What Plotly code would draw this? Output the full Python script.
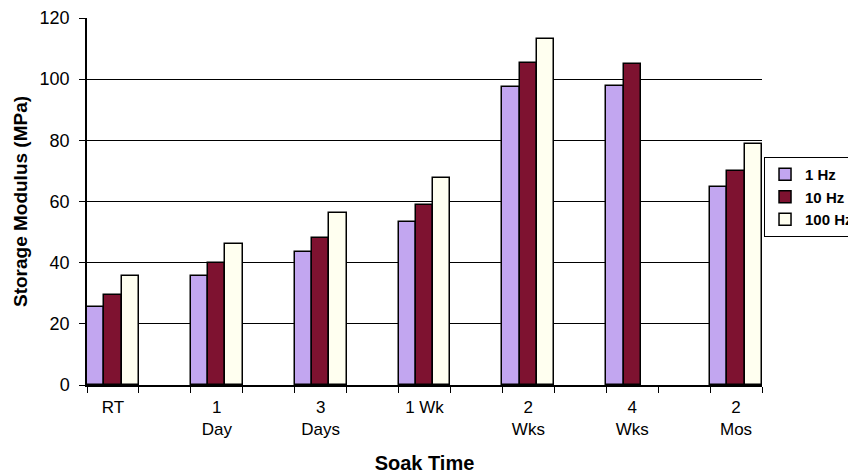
import plotly.graph_objects as go

categories = ["RT", "1<br>Day", "3<br>Days", "1 Wk", "2<br>Wks", "4<br>Wks", "2<br>Mos"]
series_names = ["1 Hz", "10 Hz", "100 Hz"]
hz1 = [25.5, 35.7, 43.4, 53.3, 97.5, 97.8, 64.6]
hz10 = [29.5, 40.0, 48.0, 58.9, 105.2, 105.0, 70.1]
hz100 = [35.7, 46.2, 56.2, 67.7, 113.1, None, 78.7]
y_ticks = [0, 20, 40, 60, 80, 100, 120]

# category axis with empty spacer slots between real categories
slots = []
for i, c in enumerate(categories):
    slots.append(c)
    if i < len(categories) - 1:
        slots.append(" " * (i + 1))

colors = ["#C2A6F0", "#7E1230", "#FFFFF0"]
values = [hz1, hz10, hz100]

fig = go.Figure()
for k, (name, vals, col) in enumerate(zip(series_names, values, colors)):
    fig.add_trace(go.Bar(
        x=categories, y=vals, name=name,
        marker=dict(color=col, line=dict(color="black", width=1.5)),
        width=1/3, offset=-0.5 + k/3,
    ))

# page body has an 8px margin, so the figure is 8px smaller and left/top margins shifted
fig.update_layout(
    width=848, height=467,
    margin=dict(l=79, r=94, t=10, b=90, autoexpand=False),
    paper_bgcolor="white", plot_bgcolor="white",
    barmode="overlay", bargap=0,
    font=dict(family="Liberation Sans, Arial, sans-serif", size=17, color="black"),
    legend=dict(
        x=1.003, y=0.621, xanchor="left", yanchor="top",
        bordercolor="black", borderwidth=1,
        font=dict(size=15, family="Liberation Sans, Arial, sans-serif", weight="bold"),
        tracegroupgap=0, itemwidth=30,
    ),
    showlegend=True,
)
fig.update_xaxes(
    type="category", categoryorder="array", categoryarray=slots,
    range=[-0.5, len(slots) - 0.5],
    tickson="boundaries", ticks="outside", ticklen=6, tickcolor="black",
    showline=True, linecolor="black", linewidth=1.5, showgrid=False,
    tickfont=dict(size=17), ticklabelstandoff=6,
    title=dict(text="<b>Soak Time</b>", font=dict(size=20), standoff=18),
)
fig.update_yaxes(
    range=[0, 120], tickvals=y_ticks, ticks="outside", ticklen=6, tickcolor="black",
    showline=True, linecolor="black", linewidth=1.5,
    showgrid=True, gridcolor="black", gridwidth=1, zeroline=False,
    tickfont=dict(size=18), ticklabelstandoff=6,
    title=dict(text="<b>Storage Modulus (MPa)</b>", font=dict(size=19), standoff=7),
)
fig.write_html("out.html")
